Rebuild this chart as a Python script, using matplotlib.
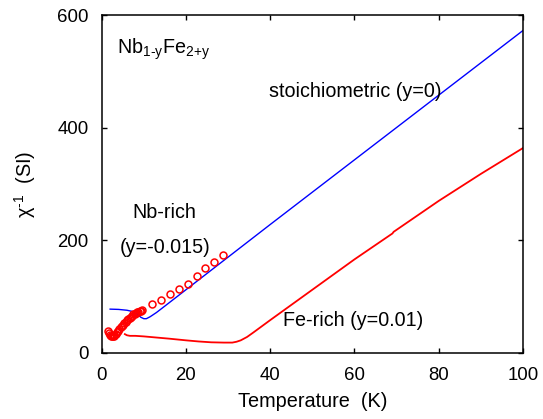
import matplotlib
matplotlib.use("Agg")
from matplotlib import pyplot as plt

# stoichiometric (y=0)
t_stoich = [2, 4, 6, 7.5, 8.5, 9.3, 10, 10.6, 11.5, 13, 15, 20, 30, 40, 60, 80, 100]
chi_stoich = [77.5, 77, 75.5, 73, 68, 63, 60.5, 60.5, 64, 71.5, 83, 112, 170, 228, 343, 458, 573]

# Fe-rich (y=0.01)
t_fe = [5.5, 6, 6.7, 8, 10, 13, 16, 20, 23, 26, 29, 31, 32, 33, 34.5, 36, 40, 50, 60, 69, 69.3, 80, 90, 100]
chi_fe = [33, 31, 30, 30, 29, 27, 25, 22, 20, 18.5, 18, 18, 19.5, 22, 28, 36, 58, 112, 166, 212, 215, 270, 318, 364]

# Nb-rich (y=-0.015), open circles
t_nb = [1.5, 1.8, 2.0, 2.2, 2.4, 2.6, 2.8, 3.0, 3.3, 3.6, 3.9, 4.2, 4.5, 4.8, 5.1,
        5.4, 5.7, 6.0, 6.3, 6.6, 6.9, 7.2, 7.5, 7.8, 8.1, 8.4, 8.7, 9.0, 9.3, 9.6,
        11.9, 14.0, 16.3, 18.4, 20.5, 22.6, 24.6, 26.7, 28.7]
chi_nb = [38, 35, 32, 30, 29, 29, 30, 31, 33, 36, 39, 42, 45, 48, 50,
          53, 55, 58, 60, 62, 64, 66, 68, 69, 70, 72, 73, 74, 75, 76,
          86, 94, 104, 114, 123, 137, 150, 162, 174]

plt.rcParams['font.family'] = ['Liberation Sans', 'DejaVu Sans']
plt.rcParams['mathtext.fontset'] = 'custom'
plt.rcParams['mathtext.rm'] = 'Liberation Sans'
plt.rcParams['mathtext.it'] = 'Liberation Sans:italic'

fig = plt.figure(figsize=(5.43, 4.19), dpi=100)
ax = fig.add_axes([0.1873, 0.1582, 0.7759, 0.8053])

ax.plot(t_stoich, chi_stoich, color='#0000ff', lw=1.0)
ax.plot(t_fe, chi_fe, color='#ff0000', lw=1.3)
ax.plot(t_nb, chi_nb, 'o', mfc='none', mec='#ff0000', ms=5, mew=1.1)

ax.set_xlim(0, 100)
ax.set_ylim(0, 600)
ax.set_xticks([0, 20, 40, 60, 80, 100])
ax.set_yticks([0, 200, 400, 600])
ax.tick_params(direction='in', top=True, right=True, length=3.6, width=1,
               labelsize=13.4)
ax.tick_params(axis='x', pad=10)
ax.tick_params(axis='y', pad=9.5)
for s in ax.spines.values():
    s.set_linewidth(1.1)

ax.set_xlabel('Temperature  (K)', fontsize=14.3, labelpad=6)
ax.set_ylabel(r'χ$^{\text{-1}}$  (SI)', fontsize=14.3, labelpad=14)

ax.text(3.56, 532, r'Nb$_{\text{1-y}}$Fe$_{\text{2+y}}$', fontsize=14.2,
        ha='left', va='baseline')
ax.text(39.6, 455, 'stoichiometric (y=0)', fontsize=14.2, ha='left', va='baseline')
ax.text(7.36, 238.7, 'Nb-rich', fontsize=14.2, ha='left', va='baseline')
ax.text(4.18, 177, '(y=-0.015)', fontsize=14.2, ha='left', va='baseline')
ax.text(43.1, 48, 'Fe-rich (y=0.01)', fontsize=14.2, ha='left', va='baseline')

plt.savefig('out.png', dpi=100)
